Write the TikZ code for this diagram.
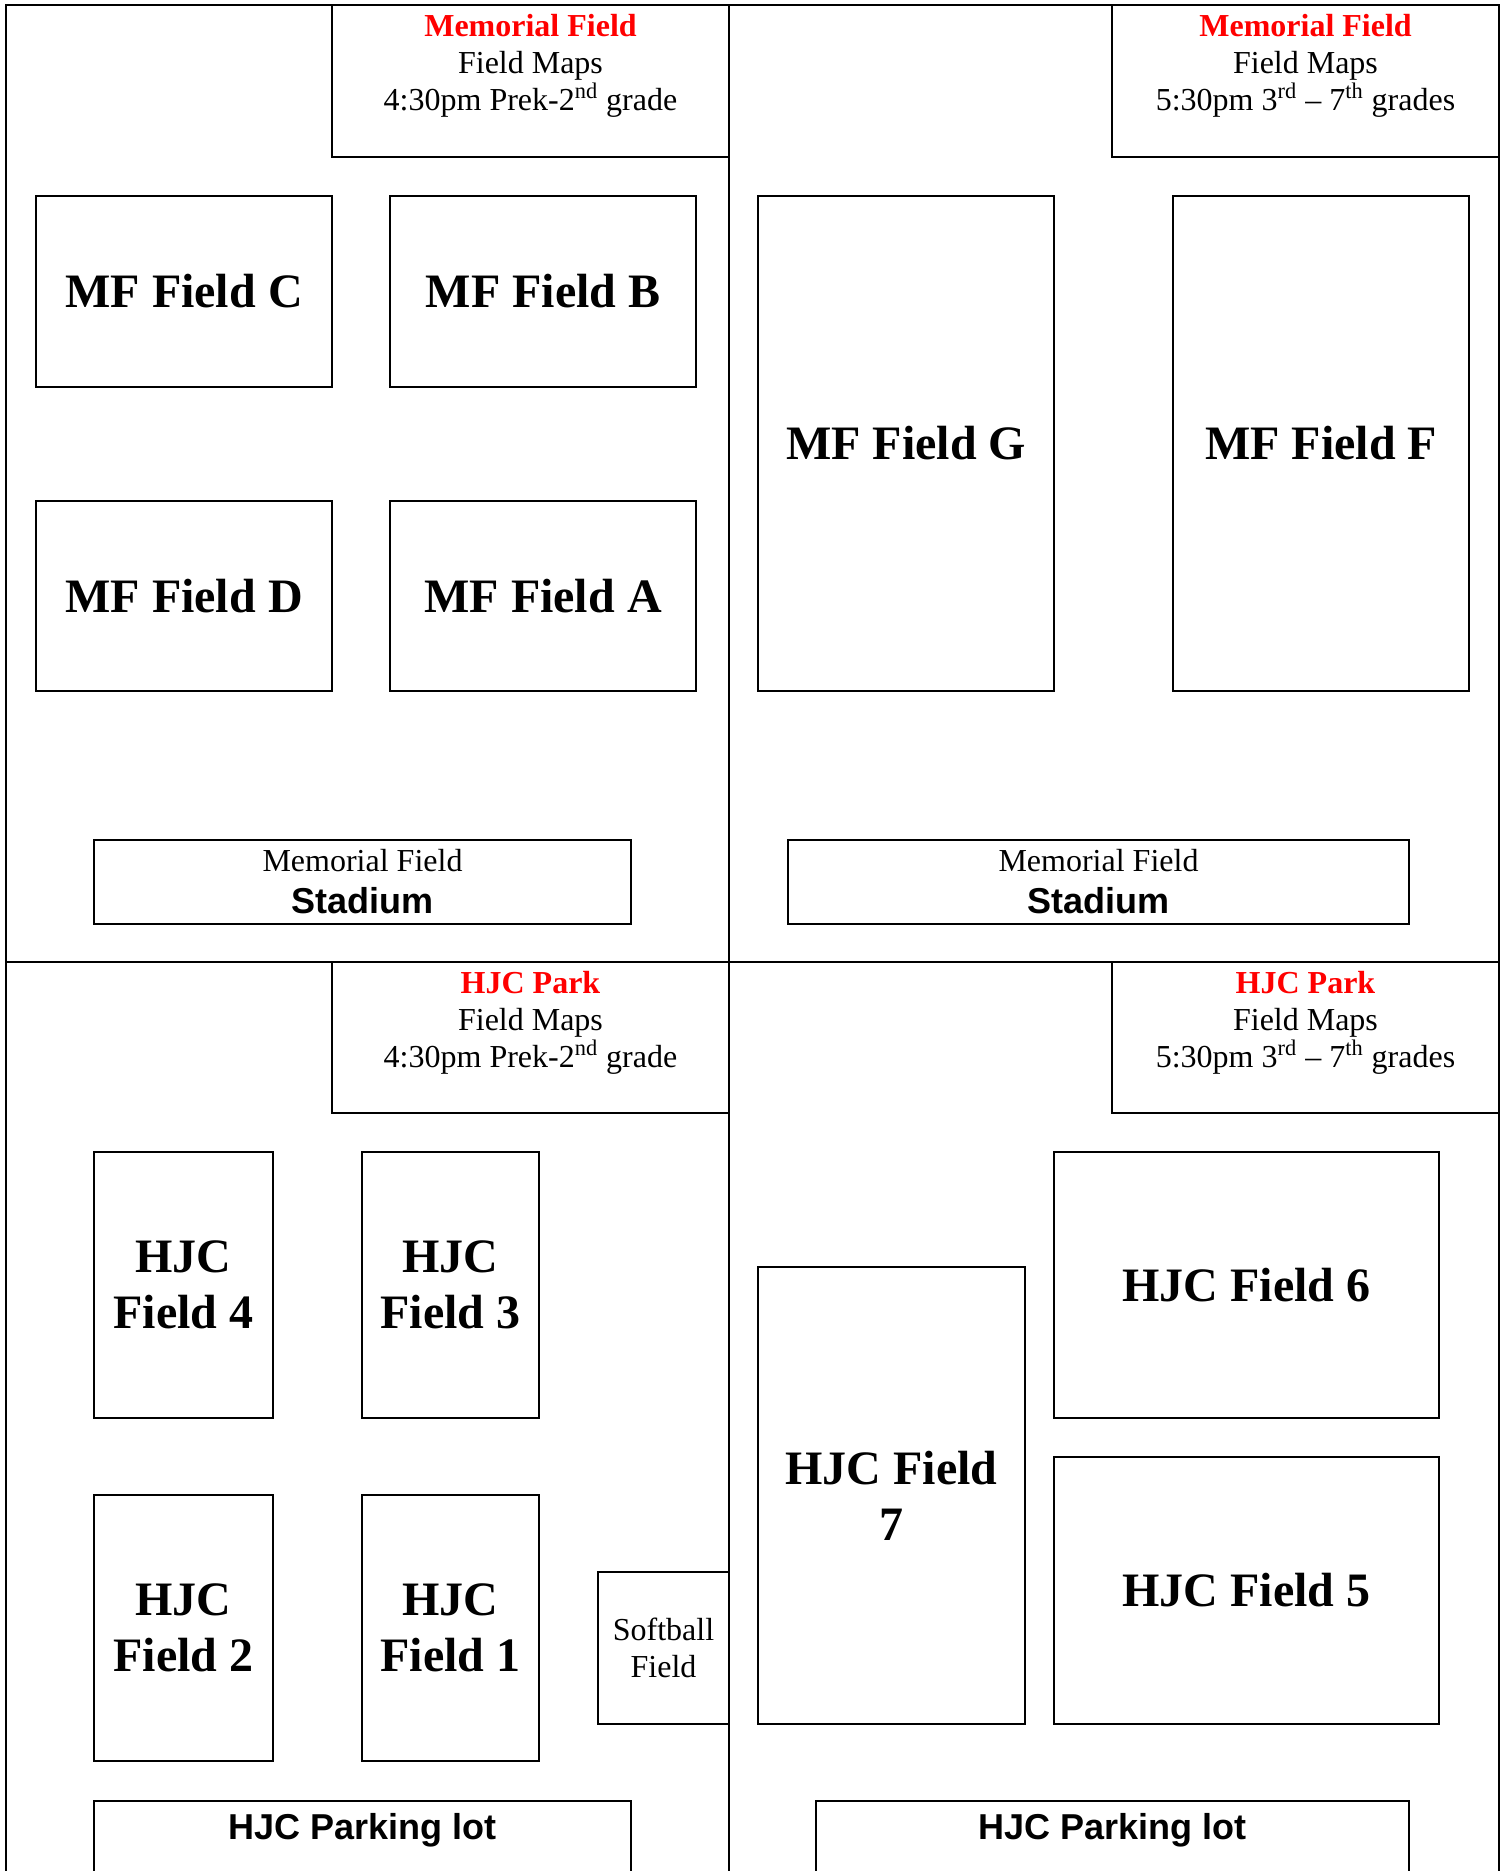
\documentclass[tikz,border=0pt]{standalone}
\usepackage{fontspec}
\setmainfont{Liberation Serif}
\newfontfamily\arialfont{Liberation Sans}
\tikzset{field/.style={draw,line width=0.9pt,inner sep=0pt,align=center,
  font=\fontsize{24}{28}\selectfont\bfseries}}

\begin{document}
\begin{tikzpicture}[x=0.5pt,y=-0.5pt,line width=0.9pt,
  title/.style={align=center,inner sep=0pt,font=\fontsize{16}{18.5}\selectfont},
  stad/.style={draw,inner sep=0pt,align=center,font=\fontsize{16}{21}\selectfont},
  lot/.style={inner sep=0pt,font=\arialfont\bfseries\fontsize{18}{21}\selectfont}]
  \useasboundingbox (0,0) rectangle (1506,1871);
  % frame
  \draw (6,1871) -- (6,5) -- (1499,5) -- (1499,1871);
  \draw (729,5) -- (729,1871);
  \draw (6,962) -- (1499,962);
  % title boxes
  \draw (332,5) rectangle (729,157);
  \draw (1112,5) rectangle (1499,157);
  \draw (332,962) rectangle (729,1113);
  \draw (1112,962) rectangle (1499,1113);
  \node[title] (hdrMFa) at (530.5,66) {\textcolor{red}{\textbf{Memorial Field}}\\Field Maps\\4:30pm Prek-2\textsuperscript{nd} grade};
  \node[title] (hdrMFb) at (1305.5,66) {\textcolor{red}{\textbf{Memorial Field}}\\Field Maps\\5:30pm 3\textsuperscript{rd} -- 7\textsuperscript{th} grades};
  \node[title] (hdrHJCa) at (530.5,1023) {\textcolor{red}{\textbf{HJC Park}}\\Field Maps\\4:30pm Prek-2\textsuperscript{nd} grade};
  \node[title] (hdrHJCb) at (1305.5,1023) {\textcolor{red}{\textbf{HJC Park}}\\Field Maps\\5:30pm 3\textsuperscript{rd} -- 7\textsuperscript{th} grades};

  % Memorial Field, early
  \node[field,minimum width=148pt,minimum height=95.5pt] (mfC) at (184,291.5) {MF Field C};
  \node[field,minimum width=153pt,minimum height=95.5pt] (mfB) at (543,291.5) {MF Field B};
  \node[field,minimum width=148pt,minimum height=95pt] (mfD) at (184,596) {MF Field D};
  \node[field,minimum width=153pt,minimum height=95pt] (mfA) at (543,596) {MF Field A};
  \node[stad,minimum width=268.5pt,minimum height=42pt] (stadL) at (362.5,882)
    {Memorial Field\\{\arialfont\bfseries\fontsize{18}{21}\selectfont Stadium}};

  % Memorial Field, late
  \node[field,minimum width=148pt,minimum height=247.5pt] (mfG) at (906,443.5) {MF Field G};
  \node[field,minimum width=148pt,minimum height=247.5pt] (mfF) at (1321,443.5) {MF Field F};
  \node[stad,minimum width=310.5pt,minimum height=42pt] (stadR) at (1098.5,882)
    {Memorial Field\\{\arialfont\bfseries\fontsize{18}{21}\selectfont Stadium}};

  % HJC Park, early
  \node[field,minimum width=89.5pt,minimum height=133pt] (hjc4) at (183.5,1285) {HJC\\Field 4};
  \node[field,minimum width=88.5pt,minimum height=133pt] (hjc3) at (450.5,1285) {HJC\\Field 3};
  \node[field,minimum width=89.5pt,minimum height=133pt] (hjc2) at (183.5,1628) {HJC\\Field 2};
  \node[field,minimum width=88.5pt,minimum height=133pt] (hjc1) at (450.5,1628) {HJC\\Field 1};
  \node[draw,inner sep=0pt,align=center,font=\fontsize{16}{18.5}\selectfont,
    minimum width=65.5pt,minimum height=76pt] (soft) at (663.5,1648) {Softball\\Field};
  \draw (94,1871) -- (94,1801) -- (631,1801) -- (631,1871);
  \node[lot] (lotL) at (362.5,1830) {HJC Parking lot};

  % HJC Park, late
  \node[field,minimum width=133.5pt,minimum height=228.5pt] (hjc7) at (891.5,1495.5) {HJC Field\\7};
  \node[field,minimum width=192.5pt,minimum height=133pt] (hjc6) at (1246.5,1285) {HJC Field 6};
  \node[field,minimum width=192.5pt,minimum height=133.5pt] (hjc5) at (1246.5,1590.5) {HJC Field 5};
  \draw (816,1871) -- (816,1801) -- (1409,1801) -- (1409,1871);
  \node[lot] (lotR) at (1112.5,1830) {HJC Parking lot};
\end{tikzpicture}
\end{document}
